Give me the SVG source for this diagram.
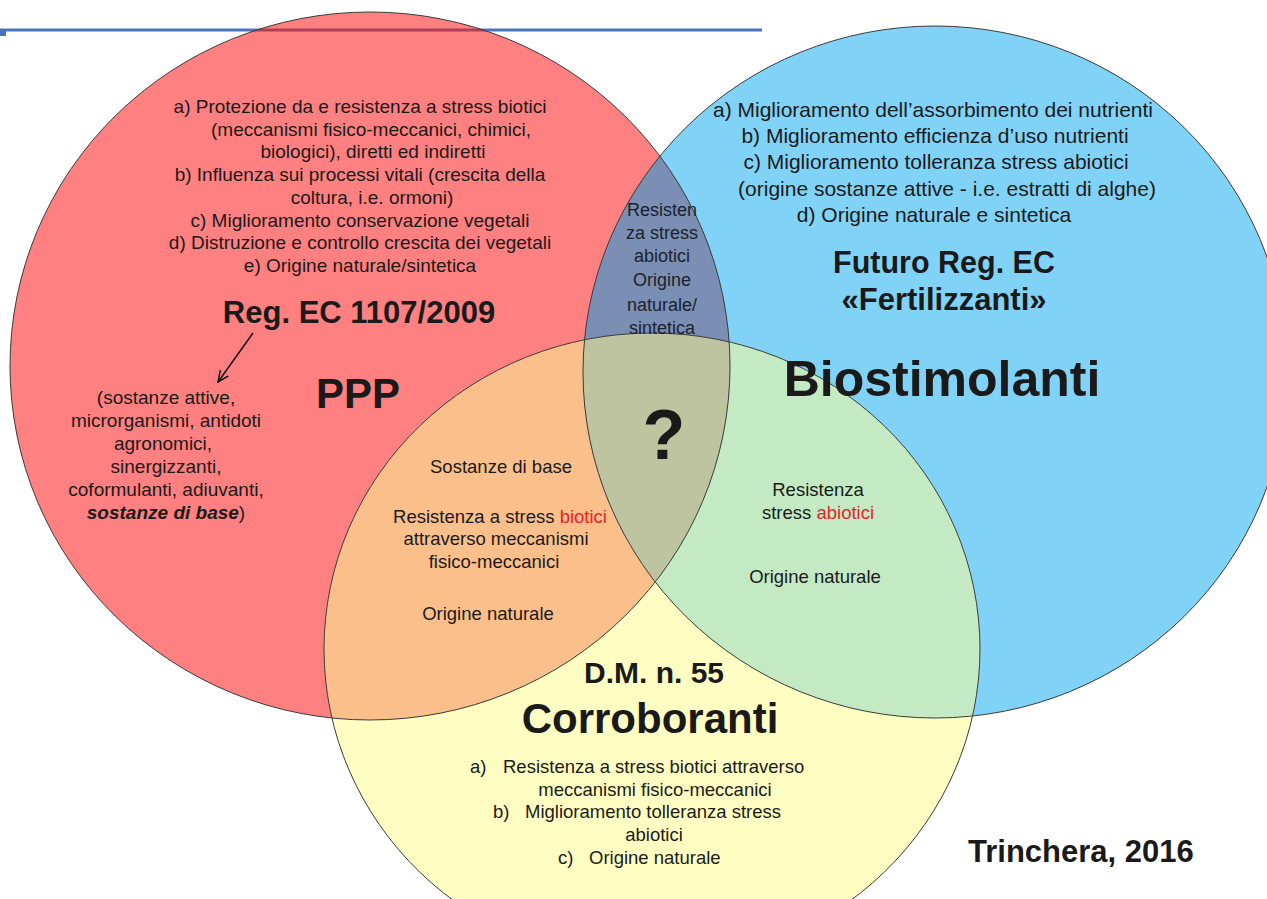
<svg xmlns="http://www.w3.org/2000/svg" width="1267" height="899" viewBox="0 0 1267 899">
<style>
text{font-family:"Liberation Sans",Arial,sans-serif;fill:#1a1a1a}
.t{font-size:19px;text-anchor:middle}
.tb{font-size:21px;text-anchor:middle}
.tl{font-size:18px;text-anchor:middle;fill:#1c1f2e}
.tm{font-size:18.5px;text-anchor:middle}
.ts{font-size:18.5px}
.b{font-weight:bold;text-anchor:middle}
.red{fill:#e5242a}
.edge{fill:none;stroke:#3a3a3a;stroke-width:1}
</style>
<defs>
<clipPath id="cR"><ellipse cx="370" cy="366" rx="360" ry="354"/></clipPath>
<clipPath id="cB"><ellipse cx="935" cy="372" rx="352" ry="346"/></clipPath>
<marker id="ah" viewBox="0 0 12 12" refX="11" refY="6" markerWidth="12" markerHeight="12" markerUnits="userSpaceOnUse" orient="auto"><polyline points="0,1 11,6 0,11" fill="none" stroke="#111" stroke-width="1.5"/></marker>
</defs>
<rect width="1267" height="899" fill="#ffffff"/>
<g id="header-line">
<line x1="0" y1="30" x2="762" y2="30" stroke="#4a74bf" stroke-width="3"/>
<rect x="0" y="29" width="6" height="7" fill="#4a74bf"/>
</g>
<g id="circles">
<ellipse id="ppp" cx="370" cy="366" rx="360" ry="354" fill="#ff8080"/>
<ellipse id="biostimolanti" cx="935" cy="372" rx="352" ry="346" fill="#80d3f7"/>
<ellipse id="corroboranti" cx="652" cy="649" rx="328" ry="316" fill="#fffec2"/>
<ellipse cx="935" cy="372" rx="352" ry="346" fill="#7a8fb3" clip-path="url(#cR)"/>
<ellipse cx="652" cy="649" rx="328" ry="316" fill="#fbbf8c" clip-path="url(#cR)"/>
<ellipse cx="652" cy="649" rx="328" ry="316" fill="#c4eac4" clip-path="url(#cB)"/>
<g clip-path="url(#cR)"><ellipse cx="652" cy="649" rx="328" ry="316" fill="#bec4a0" clip-path="url(#cB)"/></g>
<line x1="0" y1="30" x2="762" y2="30" stroke="#b0405a" stroke-width="3" clip-path="url(#cR)"/>
<ellipse class="edge" cx="370" cy="366" rx="360" ry="354"/>
<ellipse class="edge" cx="935" cy="372" rx="352" ry="346"/>
<ellipse class="edge" cx="652" cy="649" rx="328" ry="316"/>
</g>
<g id="connectors">
<line x1="253" y1="333" x2="218" y2="382" stroke="#111" stroke-width="1.5" marker-end="url(#ah)"/>
</g>
<g id="ppp-text">
<text class="t" x="360" y="113">a) Protezione da e resistenza a stress biotici</text>
<text class="t" x="371" y="136">(meccanismi fisico-meccanici, chimici,</text>
<text class="t" x="373" y="158">biologici), diretti ed indiretti</text>
<text class="t" x="360" y="181">b) Influenza sui processi vitali (crescita della</text>
<text class="t" x="372" y="204">coltura, i.e. ormoni)</text>
<text class="t" x="360" y="227">c) Miglioramento conservazione vegetali</text>
<text class="t" x="360" y="249">d) Distruzione e controllo crescita dei vegetali</text>
<text class="t" x="360" y="272">e) Origine naturale/sintetica</text>
<text class="b" x="359" y="323" font-size="31">Reg. EC 1107/2009</text>
<text class="b" x="358" y="408" font-size="42">PPP</text>
<text class="t" x="166" y="404">(sostanze attive,</text>
<text class="t" x="166" y="427">microrganismi, antidoti</text>
<text class="t" x="163" y="450">agronomici,</text>
<text class="t" x="166" y="473">sinergizzanti,</text>
<text class="t" x="166" y="496">coformulanti, adiuvanti,</text>
<text class="t" x="166" y="519"><tspan font-weight="bold" font-style="italic">sostanze di base</tspan>)</text>
</g>
<g id="bio-text">
<text class="tb" x="933" y="117">a) Miglioramento dell’assorbimento dei nutrienti</text>
<text class="tb" x="935" y="143">b) Miglioramento efficienza d’uso nutrienti</text>
<text class="tb" x="936" y="169">c) Miglioramento tolleranza stress abiotici</text>
<text class="tb" x="947" y="196">(origine sostanze attive - i.e. estratti di alghe)</text>
<text class="tb" x="934" y="222">d) Origine naturale e sintetica</text>
<text class="b" x="944" y="273" font-size="30.5">Futuro Reg. EC</text>
<text class="b" x="944" y="310" font-size="31">«Fertilizzanti»</text>
<text class="b" x="942" y="396" font-size="50">Biostimolanti</text>
</g>
<g id="ppp-bio-text">
<text class="tl" x="662" y="216">Resisten</text>
<text class="tl" x="662" y="239">za stress</text>
<text class="tl" x="662" y="262">abiotici</text>
<text class="tl" x="662" y="286">Origine</text>
<text class="tl" x="662" y="311">naturale/</text>
<text class="tl" x="662" y="334">sintetica</text>
</g>
<g id="center-text">
<text class="b" x="664" y="459" font-size="70">?</text>
</g>
<g id="ppp-corr-text">
<text class="tm" x="501" y="473">Sostanze di base</text>
<text class="tm" x="500" y="523">Resistenza a stress <tspan class="red">biotici</tspan></text>
<text class="tm" x="496" y="545">attraverso meccanismi</text>
<text class="tm" x="494" y="568">fisico-meccanici</text>
<text class="tm" x="488" y="620">Origine naturale</text>
</g>
<g id="bio-corr-text">
<text class="tm" x="818" y="496" font-size="18">Resistenza</text>
<text class="tm" x="818" y="519" font-size="18">stress <tspan class="red">abiotici</tspan></text>
<text class="tm" x="815" y="583" font-size="18">Origine naturale</text>
</g>
<g id="corr-text">
<text class="b" x="654" y="683" font-size="30">D.M. n. 55</text>
<text class="b" x="650" y="733" font-size="42">Corroboranti</text>
<text class="ts" x="470" y="773">a)</text>
<text class="ts" x="503" y="773">Resistenza a stress biotici attraverso</text>
<text class="tm" x="655" y="796">meccanismi fisico-meccanici</text>
<text class="ts" x="493" y="818">b)</text>
<text class="ts" x="525" y="818">Miglioramento tolleranza stress</text>
<text class="tm" x="654" y="841">abiotici</text>
<text class="ts" x="558" y="864">c)</text>
<text class="ts" x="589" y="864">Origine naturale</text>
</g>
<g id="credit">
<text x="968" y="862" font-size="31" font-weight="bold">Trinchera, 2016</text>
</g>
</svg>
